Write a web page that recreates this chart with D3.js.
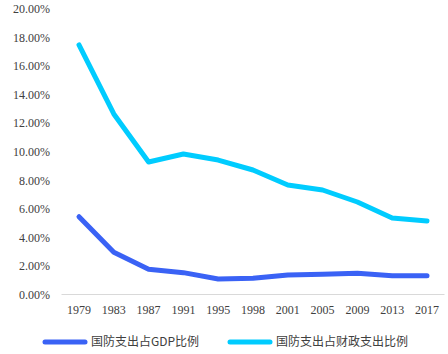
<!DOCTYPE html>
<html lang="zh">
<head>
<meta charset="UTF-8">
<script src="https://cdn.jsdelivr.net/npm/d3@7"></script>
<style>
  body { margin: 0; background: #fff; }
  svg text { font-family: "Liberation Serif", "Times New Roman", serif; fill: #404040; }
  .legend text { font-family: "Noto Sans CJK SC", sans-serif; }
</style>
</head>
<body>
<script>
var years = ["1979","1983","1987","1991","1995","1998","2001","2005","2009","2013","2017"];
var gdpShare = [5.45, 2.96, 1.77, 1.53, 1.09, 1.14, 1.37, 1.42, 1.49, 1.32, 1.32];
var fiscalShare = [17.48, 12.65, 9.28, 9.84, 9.42, 8.72, 7.67, 7.32, 6.48, 5.36, 5.15];
var yTicks = [0, 2, 4, 6, 8, 10, 12, 14, 16, 18, 20];
var seriesNames = ["国防支出占GDP比例", "国防支出占财政支出比例"];
var colors = ["#3a62f5", "#00ccff"];

var width = 448, height = 354;
var svg = d3.select("body").append("svg").attr("width", width).attr("height", height);

var x = d3.scalePoint().domain(years).range([79, 427]);
var y = d3.scaleLinear().domain([0, 20]).range([294.5, 9]);

// y labels
svg.append("g")
  .selectAll("text").data(yTicks).enter().append("text")
  .attr("x", 50).attr("y", function(d){ return y(d); })
  .attr("dy", "0.35em").attr("text-anchor", "end")
  .style("font-size", "12px")
  .text(function(d){ return d.toFixed(2) + "%"; });

// x axis line
svg.append("line")
  .attr("x1", 61.5).attr("x2", 444.5)
  .attr("y1", 294.5).attr("y2", 294.5)
  .attr("stroke", "#d9d9d9").attr("stroke-width", 1);

svg.append("g")
  .selectAll("text").data(years).enter().append("text")
  .attr("x", function(d){ return x(d); }).attr("y", 310)
  .attr("dy", "0.35em").attr("text-anchor", "middle")
  .style("font-size", "12px")
  .text(function(d){ return d; });

var line = d3.line()
  .x(function(d, i){ return x(years[i]); })
  .y(function(d){ return y(d); });

[gdpShare, fiscalShare].forEach(function(s, i){
  svg.append("path")
    .attr("d", line(s))
    .attr("fill", "none")
    .attr("stroke", colors[i])
    .attr("stroke-width", 5)
    .attr("stroke-linejoin", "round")
    .attr("stroke-linecap", "round");
});

// legend
var lg = svg.append("g").attr("class", "legend");
var lx = [45, 230];
seriesNames.forEach(function(n, i){
  lg.append("line")
    .attr("x1", lx[i]).attr("x2", lx[i] + 40)
    .attr("y1", 342).attr("y2", 342)
    .attr("stroke", colors[i]).attr("stroke-width", 5)
    .attr("stroke-linecap", "round");
  lg.append("text")
    .attr("x", lx[i] + 46).attr("y", 342)
    .attr("dy", "0.35em")
    .style("font-size", "12px")
    .text(n);
});
</script>
</body>
</html>
